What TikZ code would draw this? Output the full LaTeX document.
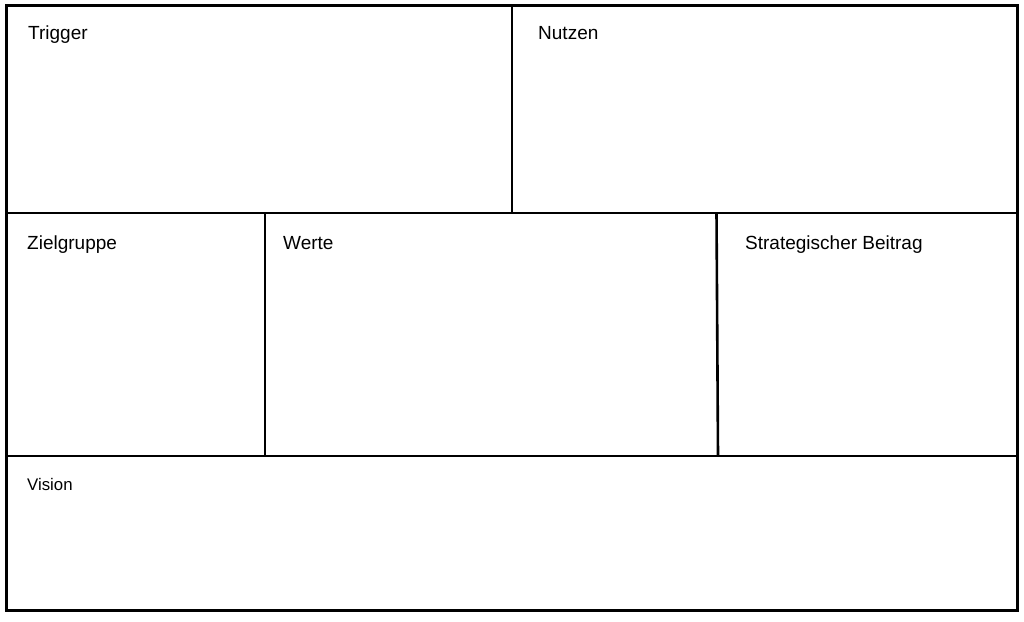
\documentclass[tikz,border=0pt]{standalone}
\usepackage{fontspec}
\setmainfont{Liberation Sans}
\begin{document}
\begin{tikzpicture}[x=1pt,y=-1pt,
  outer/.style={line width=3pt,black},
  inner/.style={line width=2.6pt,black},
  lbl/.style={anchor=base west,inner sep=0pt,font=\fontsize{19}{19}\selectfont},
  slbl/.style={anchor=base west,inner sep=0pt,font=\fontsize{16.8}{17}\selectfont}]
\useasboundingbox[fill=white] (0,0) rectangle (1024,621);
\coordinate (tl) at (6.5,5.5);
\coordinate (br) at (1017,610);
\draw[outer] (tl) rectangle (br);
\coordinate (h1l) at (6.5,213);
\coordinate (h1r) at (1017,213);
\coordinate (h2l) at (6.5,456);
\coordinate (h2r) at (1017,456);
\draw[inner] (h1l) -- (h1r);
\draw[inner] (h2l) -- (h2r);
\coordinate (v1t) at (512,5.5);
\coordinate (v1b) at (512,213);
\coordinate (v2t) at (265,213);
\coordinate (v2b) at (265,456);
\coordinate (v3t) at (716.5,213);
\coordinate (v3b) at (718,456);
\draw[inner] (v1t) -- (v1b);
\draw[inner] (v2t) -- (v2b);
\draw[inner] (v3t) -- (v3b);
\node[lbl] (trigger) at (28,39) {Trigger};
\node[lbl] (nutzen) at (538,39) {Nutzen};
\node[lbl] (ziel) at (27,249) {Zielgruppe};
\node[lbl] (werte) at (283,249) {Werte};
\node[lbl] (strat) at (745,249) {Strategischer Beitrag};
\node[slbl] (vision) at (27,490) {Vision};
\end{tikzpicture}
\end{document}
